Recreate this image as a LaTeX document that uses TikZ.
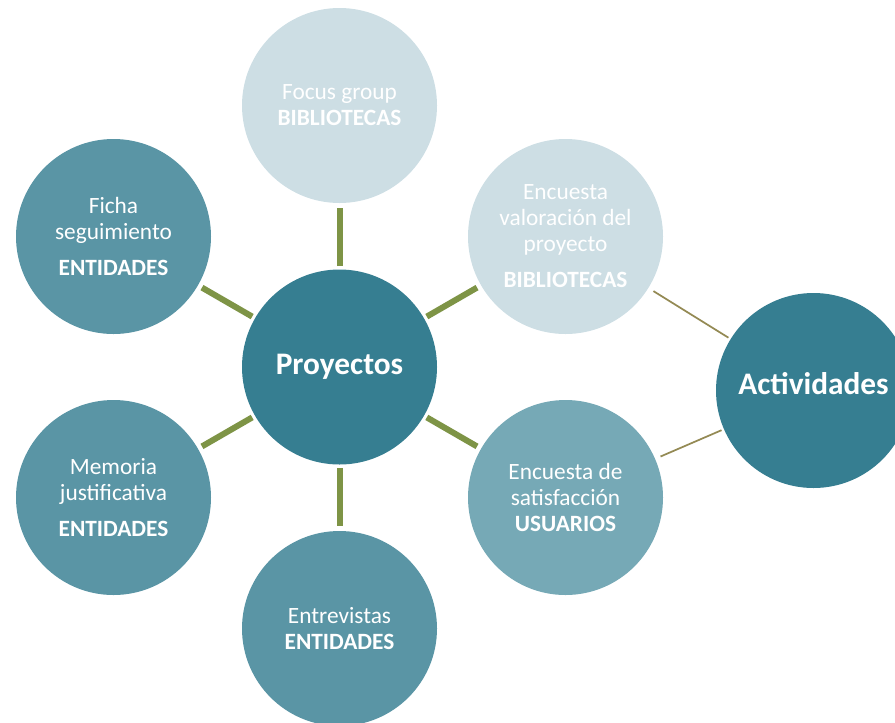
\documentclass[tikz,border=0pt]{standalone}
\usepackage{fontspec}
\setmainfont{Carlito}

\definecolor{hubblue}{RGB}{54,126,145}
\definecolor{midblue}{RGB}{90,149,165}
\definecolor{softblue}{RGB}{118,169,182}
\definecolor{paleblue}{RGB}{205,222,228}
\definecolor{spokegreen}{RGB}{126,148,70}
\definecolor{linkolive}{RGB}{148,138,84}

\tikzset{
  bubble/.style={circle, minimum size=146.25pt, inner sep=0pt, outer sep=0pt,
    text=white, align=center, font=\fontsize{17.5}{19.5}\selectfont},
  hub/.style={bubble, fill=hubblue, font=\fontsize{23.5}{26}\selectfont\bfseries},
  spoke/.style={draw=spokegreen, line width=4.5pt, shorten <=2.5pt, shorten >=3.5pt},
  link/.style={draw=linkolive, line width=1.3pt, shorten <=4.5pt, shorten >=2pt},
}

\begin{document}
\begin{tikzpicture}[x=0.75pt, y=0.75pt]
      \useasboundingbox (0,0) rectangle (895,-722);
      % centre
      \node[hub] (proyectos) at (339.5,-367) {Proyectos};
      % ring round it
      \node[bubble, fill=paleblue] (focus) at (339.5,-105.5) {Focus group\\\textbf{BIBLIOTECAS}};
      \node[bubble, fill=midblue] (ficha) at (113.5,-236.5) {Ficha\\seguimiento\\[7.5pt]\textbf{ENTIDADES}};
      \node[bubble, fill=midblue] (memoria) at (113.5,-497.5) {Memoria\\justificativa\\[7.5pt]\textbf{ENTIDADES}};
      \node[bubble, fill=midblue] (entrevistas) at (339.5,-628.5) {Entrevistas\\\textbf{ENTIDADES}};
      \node[bubble, fill=paleblue] (valoracion) at (565.5,-236.5) {Encuesta\\valoración del\\proyecto\\[7.5pt]\textbf{BIBLIOTECAS}};
      \node[bubble, fill=softblue] (satisfaccion) at (565.5,-497.5) {Encuesta de\\satisfacción\\\textbf{USUARIOS}};
      \node[hub, text depth=10pt] (actividades) at (813.5,-390.5) {Actividades};
      \foreach \s in {focus, ficha, memoria, entrevistas, valoracion, satisfaccion}
      \draw[spoke] (proyectos) -- (\s) ;
      \foreach \s in {valoracion, satisfaccion}
      \draw[link] (\s) -- (actividades) ;
    \end{tikzpicture}
\end{document}
